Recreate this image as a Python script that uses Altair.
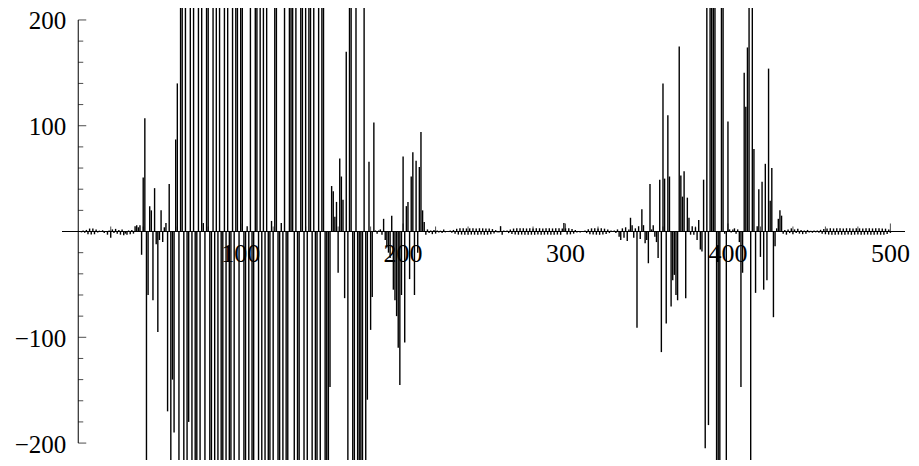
import altair as alt
import pandas as pd

# ---- data: stem values, one per integer x ----
# x = 1 .. 34 (quiet start)
quiet_a = [0.5, -0.8, 1, -1.2, 1.5, -2.5, 2.8, -2.8, 2.8, -2.6,
           1.8, -1, 0.8, -0.5, 1.2, -1.5, 0.6, -3, 1, -6,
           2, -1.5, 2.5, -2, 1.5, -3, 2, -3.5, -2, -3,
           1, -2.5, 1.5, -2]
# x = 35 .. 212 (first burst, +/-300 means off the plot range)
burst_a = [5, 6, 4, 6, -22, 51, 107, -300, -60, 24,
           20, -65, 41, -12, -95, -8, 20, -10, 4, 8,
           -170, 45, -300, -140, -190, 87, 140, -300, 300, 300,
           -300, 300, -300, -180, 300, -300, 300, -300, -300, 300,
           -300, 300, 8, -300, 300, 300, -300, -300, 300, -300,
           300, -300, 300, -300, -300, 300, -300, 300, -300, -300,
           300, -300, 300, 300, -300, 300, 300, -300, -300, 5,
           -300, 300, -300, -300, 300, 300, -300, 300, -300, 300,
           -300, 300, -300, -300, 10, -300, 300, 300, -300, -300,
           8, -300, 300, -300, -300, 300, 300, 300, -300, 300,
           -300, -300, 300, 300, -300, 300, -300, 300, 300, -300,
           300, -300, -300, 300, -300, 300, 300, -300, -300, -300,
           -147, 43, 38, 14, 28, -39, 69, 52, 30, -63,
           170, -300, 300, 300, -300, -300, 300, -300, -300, -300,
           -300, 300, -300, -159, 66, -93, -62, 103, 1, -2,
           1, 2, -3, 12, -8, -15, -20, -25, 15, -55,
           -65, -80, -110, -145, -60, 71, -105, 24, 28, -45,
           52, 75, -60, 67, -20, 61, 94, 20]
# x = 213 .. 329 (quiet middle)
quiet_b = [9, -3, 2, -1.5, 1, -2.5, 1.5, -2, 1, -1,
           0.8, -1.5, 2, -0.8, 0.5, -0.5, 1, -1.2, 1.5, -2.2,
           2.6, -2.9, 3.0, -2.9, 3.1, -3.0, 2.9, -3.1, 3.0, -2.9,
           3.1, -3.0, 2.9, -3.0, 3.1, -2.9, 3.0, -3.1, 2.9, -3.0,
           2.8, -2.6, 2.3, -1.8, 1.3, -0.8, -1, 5, -3, 1,
           -0.5, 1, -1.5, 1.9, -2.4, 2.8, -2.9, 3.0, -3.0, 3.1,
           -2.9, 3.0, -3.1, 2.9, -3.0, 3.1, -3.0, 2.9, -3.1, 3.0,
           -2.9, 3.1, -3.0, 2.9, -3.0, 3.1, -2.9, 3.0, -3.1, 2.9,
           -3.0, 3.1, -2.9, 3.0, -3.1, 2.9, 8, 3.0, -2.9, 3.1,
           -2.7, 2.4, -2.0, 1.5, -1.0, 0.5, -1, 0.6, -0.5, 1,
           -1.5, 2.2, -2.7, 3.0, -2.9, 3.1, -3.0, 2.9, -3.1, 3.0,
           -2.9, 2.7, -2.4, 2.0, -1.5, 0.9, 0.5]
# x = 330 .. 444 (second burst)
burst_b = [1, -1.5, 2, -5, -8, 3, -6, 4, -9, 2,
           13, 6, -6, 3, -91, 5, -7, 21, 6, -11,
           -8, -30, 45, 2, 6, -5, -10, -25, 49, -114,
           140, 50, -87, 110, 52, -71, -46, -41, -60, -65,
           175, 53, 33, 57, -63, 32, 13, -3, 5, -3,
           4, -8, 11, -17, -19, 49, -205, 300, -183, 300,
           300, 300, 300, -300, -300, -300, 300, 300, -2, -300,
           104, 2, -1, 2, 3, -2, 2, -10, -147, -39,
           150, 118, 174, 300, -300, 300, 78, -58, 5, 40,
           -24, 47, -55, 64, -46, 154, 29, 60, -81, -14,
           3, 12, 20, 15, -2, 1.5, -3, 2, -1.5, 3,
           -2.5, 2, -1.5, 2.5, -2]
# x = 445 .. 500 (quiet end)
quiet_c = [1.5, -2.5, 1, -2, 1.5, -1, 0.8, -1.2, 1, -0.8,
           1, -1.2, 1.6, -2.0, 2.3, -2.6, 2.8, -2.9, 3.1, -3.0,
           2.9, -3.1, 3.0, -2.9, 3.1, -3.0, 2.9, -3.0, 3.1, -2.9,
           3.0, -3.1, 2.9, -3.0, 3.1, -2.9, 3.0, -3.1, 2.9, -3.0,
           3.1, -2.9, 3.0, -3.1, 2.9, -3.0, 3.1, -2.9, 3.0, -3.1,
           2.9, -3.0, 2.7, -2.4, 2.0, -1.3]
segment_starts = [1, 35, 213, 330, 445]

x_ticks_major = [100, 200, 300, 400, 500]
x_tick_labels = ["100", "200", "300", "400", "500"]
x_ticks_minor = [20, 40, 60, 80, 120, 140, 160, 180, 220, 240, 260, 280,
                 320, 340, 360, 380, 420, 440, 460, 480]
y_ticks_major = [-200, -100, 100, 200]
y_tick_labels = ["\u2212200", "\u2212100", "100", "200"]
y_ticks_minor = [-180, -160, -140, -120, -80, -60, -40, -20,
                 20, 40, 60, 80, 120, 140, 160, 180]

rows = []
for start, seg in zip(segment_starts, [quiet_a, burst_a, quiet_b, burst_b, quiet_c]):
    for i, v in enumerate(seg):
        rows.append({"x": start + i, "v": v})
df = pd.DataFrame(rows)

FONT = "Liberation Serif"
x_scale = alt.Scale(domain=[-10, 509], nice=False, zero=False)
y_scale = alt.Scale(domain=[-216, 211.3], nice=False, zero=False, clamp=True)

stems = alt.Chart(df).mark_rule(color="black", strokeWidth=1.4).encode(
    x=alt.X("x:Q", scale=x_scale, axis=None),
    y=alt.Y("v:Q", scale=y_scale, axis=None),
    y2=alt.datum(0),
)

x_line = alt.Chart(pd.DataFrame({"y0": [0]})).mark_rule(color="black", strokeWidth=1).encode(
    y=alt.Y("y0:Q", scale=y_scale, axis=None)
)
y_line = alt.Chart(pd.DataFrame({"x0": [0], "lo": [y_ticks_major[0]], "hi": [y_ticks_major[-1]]})).mark_rule(
    color="black", strokeWidth=1).encode(
    x=alt.X("x0:Q", scale=x_scale, axis=None),
    y=alt.Y("lo:Q", scale=y_scale, axis=None),
    y2="hi:Q",
)

def yticks(vals, size):
    d = pd.DataFrame({"t": vals, "x0": [0] * len(vals)})
    return alt.Chart(d).mark_tick(orient="horizontal", size=size, thickness=1,
                                  xOffset=size / 2, color="black").encode(
        x=alt.X("x0:Q", scale=x_scale, axis=None),
        y=alt.Y("t:Q", scale=y_scale, axis=None),
    )

def xticks(vals, size):
    d = pd.DataFrame({"t": vals, "y0": [0] * len(vals)})
    return alt.Chart(d).mark_tick(orient="vertical", size=size, thickness=1,
                                  yOffset=-size / 2, color="black").encode(
        x=alt.X("t:Q", scale=x_scale, axis=None),
        y=alt.Y("y0:Q", scale=y_scale, axis=None),
    )

x_labels = alt.Chart(pd.DataFrame({"t": x_ticks_major, "lab": x_tick_labels,
                                   "y0": [0] * len(x_ticks_major)})).mark_text(
    font=FONT, fontSize=26, color="black", align="center", baseline="alphabetic", dy=30.5
).encode(
    x=alt.X("t:Q", scale=x_scale, axis=None),
    y=alt.Y("y0:Q", scale=y_scale, axis=None),
    text="lab:N",
)
y_labels = alt.Chart(pd.DataFrame({"t": y_ticks_major, "lab": y_tick_labels,
                                   "x0": [0] * len(y_ticks_major)})).mark_text(
    font=FONT, fontSize=25, color="black", align="right", baseline="middle", dx=-12, dy=1.5
).encode(
    x=alt.X("x0:Q", scale=x_scale, axis=None),
    y=alt.Y("t:Q", scale=y_scale, axis=None),
    text="lab:N",
)

chart = alt.layer(
    x_labels, y_labels,
    stems, x_line, y_line,
    yticks(y_ticks_major, 8), yticks(y_ticks_minor, 5),
    xticks(x_ticks_major, 8), xticks(x_ticks_minor, 5),
).properties(
    width=843, height=452,
    padding={"left": 54, "top": 0, "right": 6, "bottom": 0},
    autosize=alt.AutoSizeParams(type="none"),
    background="white",
).configure_view(stroke=None)

chart.save("out.html", embed_options={"renderer": "svg", "actions": False})
